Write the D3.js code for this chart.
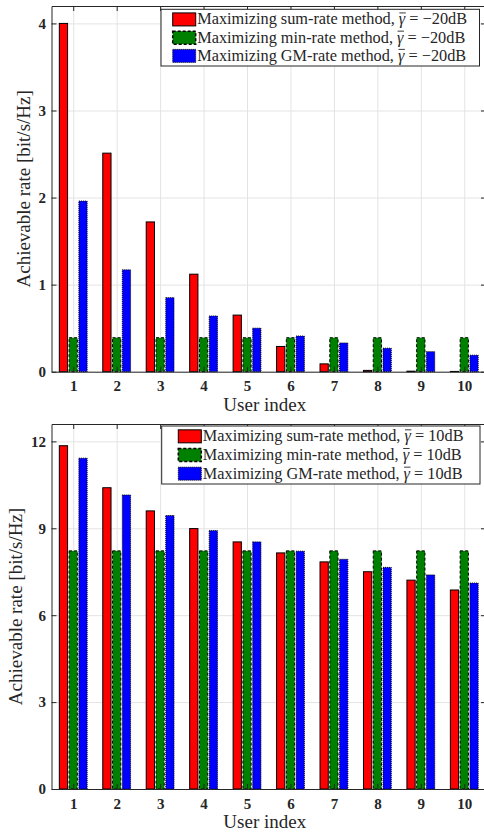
<!DOCTYPE html>
<html>
<head>
<meta charset="utf-8">
<script src="https://cdn.jsdelivr.net/npm/d3@7"></script>
<style>
  body { margin: 0; background: #fff; }
  svg { display: block; }
  text { font-family: "Liberation Serif", "Times New Roman", serif; fill: #262626; }
</style>
</head>
<body>
<script>
// Users on the x axis
var users = [1, 2, 3, 4, 5, 6, 7, 8, 9, 10];

// Panel 1: gamma = -20dB
var sumRateLow = [4.00, 2.51, 1.72, 1.12, 0.65, 0.29, 0.09, 0.015, 0.006, 0.003];
var minRateLow = [0.39, 0.39, 0.39, 0.39, 0.39, 0.39, 0.39, 0.39, 0.39, 0.39];
var gmRateLow  = [1.96, 1.17, 0.85, 0.64, 0.50, 0.41, 0.33, 0.27, 0.23, 0.19];
var yTicksLow  = [0, 1, 2, 3, 4];

// Panel 2: gamma = 10dB
var sumRateHigh = [11.85, 10.40, 9.60, 8.99, 8.53, 8.15, 7.84, 7.50, 7.21, 6.87];
var minRateHigh = [8.22, 8.22, 8.22, 8.22, 8.22, 8.22, 8.22, 8.22, 8.22, 8.22];
var gmRateHigh  = [11.42, 10.15, 9.44, 8.92, 8.53, 8.21, 7.93, 7.65, 7.39, 7.11];
var yTicksHigh  = [0, 3, 6, 9, 12];

var methodNames = ['Maximizing sum-rate method, ', 'Maximizing min-rate method, ', 'Maximizing GM-rate method, '];
var gammaLabels = ['\u221220dB', '10dB'];

// Bar styles (fill, dash of the edge)
var barFills  = ['#ff0000', '#008000', '#0000ff'];
var barDashes = [null, '3,2', '1,1'];

var width = 484, height = 834;
var axisColor = '#262626', gridColor = '#e3e3e3';
var serif = '"Liberation Serif", "Times New Roman", serif';
var xLeft = 51.5, xRight = 486;
var barOffset = 0.225, barWidth = 0.19; /* in user units */

var svg = d3.select('body').append('svg')
  .attr('width', width)
  .attr('height', height);

var x = d3.scaleLinear().domain([0.5, 10.5]).range([xLeft, xRight]);

var panels = [
  { top: 6,   bottom: 371.7, yMax: 4.2,  ticks: yTicksLow,  series: [sumRateLow, minRateLow, gmRateLow],
    gamma: gammaLabels[0], legend: { x: 161, y: 9.3, w: 318.5, h: 56.7, sx: 172.7 }, ylabelX: 30 },
  { top: 424, bottom: 789,   yMax: 12.6, ticks: yTicksHigh, series: [sumRateHigh, minRateHigh, gmRateHigh],
    gamma: gammaLabels[1], legend: { x: 161.7, y: 426, w: 318.3, h: 58, sx: 178.3 }, ylabelX: 22 }
];

var drawPanel = function(p) {
  var y = d3.scaleLinear().domain([0, p.yMax]).range([p.bottom, p.top]);
  var g = svg.append('g');

  // Grid
  g.append('g')
    .attr('transform', 'translate(0,' + p.bottom + ')')
    .call(d3.axisBottom(x).tickValues(users).tickSize(-(p.bottom - p.top)).tickFormat(''))
    .call(a => a.select('.domain').remove())
    .selectAll('line').attr('stroke', gridColor);
  g.append('g')
    .attr('transform', 'translate(' + xLeft + ',0)')
    .call(d3.axisLeft(y).tickValues(p.ticks).tickSize(-(xRight - xLeft)).tickFormat(''))
    .call(a => a.select('.domain').remove())
    .selectAll('line').attr('stroke', gridColor);

  // Bars
  p.series.forEach((vals, s) => {
    g.append('g').selectAll('rect')
      .data(vals)
      .enter()
      .append('rect')
      .attr('x', (d, i) => x(users[i] + (s - 1) * barOffset - barWidth / 2))
      .attr('width', x(barWidth) - x(0))
      .attr('y', d => y(d))
      .attr('height', d => y(0) - y(d))
      .attr('fill', barFills[s])
      .attr('stroke', '#000')
      .attr('stroke-width', 1)
      .attr('stroke-dasharray', barDashes[s]);
  });

  // Axes (ticks point inwards, box on)
  var bottomAxis = g.append('g')
    .attr('transform', 'translate(0,' + p.bottom + ')')
    .call(d3.axisBottom(x).tickValues(users).tickFormat(d3.format('d')).tickSize(-5).tickSizeOuter(0).tickPadding(9));
  var leftAxis = g.append('g')
    .attr('transform', 'translate(' + xLeft + ',0)')
    .call(d3.axisLeft(y).tickValues(p.ticks).tickFormat(d3.format('d')).tickSize(-5).tickSizeOuter(0).tickPadding(5.5));
  var topAxis = g.append('g')
    .attr('transform', 'translate(0,' + p.top + ')')
    .call(d3.axisTop(x).tickValues(users).tickSize(-5).tickSizeOuter(0).tickFormat(''));
  var rightAxis = g.append('g')
    .attr('transform', 'translate(' + xRight + ',0)')
    .call(d3.axisRight(y).tickValues(p.ticks).tickSize(-5).tickSizeOuter(0).tickFormat(''));
  [bottomAxis, leftAxis, topAxis, rightAxis].forEach(a => {
    a.attr('font-family', serif);
    a.select('.domain').attr('stroke', axisColor).attr('stroke-width', 1);
    a.selectAll('line').attr('stroke', axisColor);
    a.selectAll('text')
      .attr('fill', axisColor)
      .style('font-family', serif)
      .style('font-size', '15px')
      .style('font-weight', 'bold');
  });

  // Axis labels
  g.append('text')
    .attr('x', (xLeft + xRight) / 2 - 4)
    .attr('y', p.bottom + 39)
    .attr('text-anchor', 'middle')
    .style('font-size', '19px')
    .text('User index');
  g.append('text')
    .attr('transform', 'translate(' + p.ylabelX + ',' + (p.top + p.bottom) / 2 + ') rotate(-90)')
    .attr('text-anchor', 'middle')
    .style('font-size', '19px')
    .text('Achievable rate [bit/s/Hz]');

  // Legend
  var L = p.legend;
  var lg = g.append('g');
  lg.append('rect')
    .attr('x', L.x).attr('y', L.y)
    .attr('width', L.w).attr('height', L.h)
    .attr('fill', '#fff')
    .attr('stroke', axisColor)
    .attr('stroke-width', 1);
  var rowH = (L.h - 2) / 3;
  methodNames.forEach((name, s) => {
    var cy = L.y + 1 + rowH * (s + 0.5);
    lg.append('rect')
      .attr('x', L.sx).attr('y', cy - 6.5)
      .attr('width', 23).attr('height', 13)
      .attr('fill', barFills[s])
      .attr('stroke', '#000')
      .attr('stroke-width', s == 1 ? 1.5 : 1)
      .attr('stroke-dasharray', barDashes[s]);
    var t = lg.append('text')
      .attr('x', L.sx + 24.5)
      .attr('y', cy + 5)
      .style('font-size', '16.3px');
    t.append('tspan').text(name);
    t.append('tspan')
      .style('font-style', 'italic')
      .text('\u03b3');
    t.append('tspan').text(' = ' + p.gamma);
    // Overline above gamma
    var gi = name.length;
    var node = t.node();
    var x0 = node.getStartPositionOfChar(gi).x;
    var x1 = node.getEndPositionOfChar(gi).x;
    lg.append('line')
      .attr('x1', x0 + 0.5).attr('x2', x1 + 0.5)
      .attr('y1', cy - 6.5).attr('y2', cy - 6.5)
      .attr('stroke', axisColor)
      .attr('stroke-width', 0.9);
  });
}

panels.forEach(drawPanel);
</script>
</body>
</html>
